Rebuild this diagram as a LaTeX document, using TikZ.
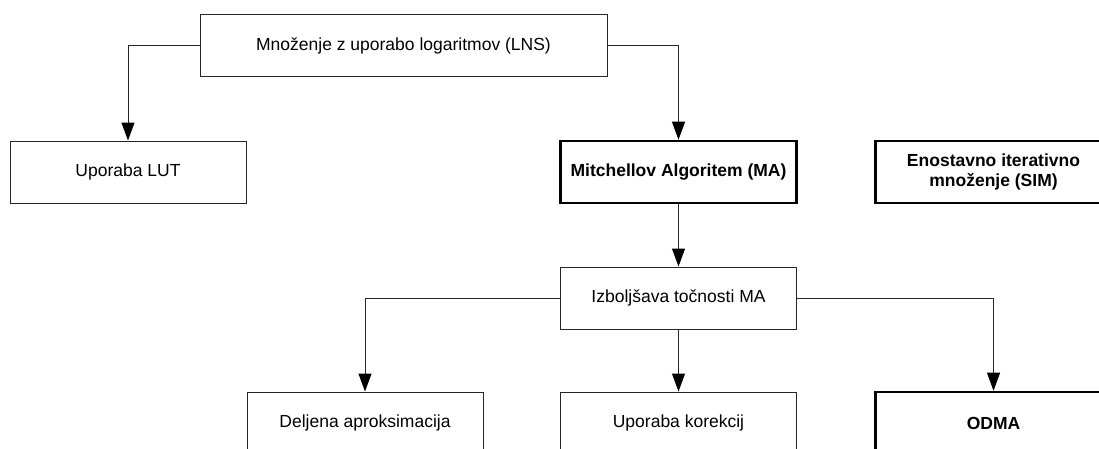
\documentclass[tikz,border=0pt]{standalone}
\usepackage{fontspec}
\setmainfont{Liberation Sans}
\usetikzlibrary{arrows.meta}

\tikzset{
  box/.style={draw=black!85, line width=1pt, rectangle, minimum width=236pt,
    minimum height=62pt, inner sep=0pt, align=center,
    font=\fontsize{17.5}{20.5}\selectfont},
  keybox/.style={box, draw=black, line width=2.6pt,
    font=\fontsize{17.5}{20.5}\selectfont\bfseries},
  link/.style={draw=black!85, line width=1pt,
    -{Triangle[length=18pt,width=13pt,color=black]}}
}

\begin{document}
\begin{tikzpicture}[x=1pt,y=-1pt]
  \useasboundingbox (0,0) rectangle (1099,448);
  \clip (0,0) rectangle (1099,448);

  % root and first level
  \node[box, minimum width=407pt] (lns) at (403.5,45.5) {Množenje z uporabo logaritmov (LNS)};
  \node[box] (lut) at (128,172) {Uporaba LUT};
  \node[keybox] (ma) at (678.5,172) {Mitchellov Algoritem (MA)};
  \node[keybox] (sim) at (993.5,172) {Enostavno iterativno\\množenje (SIM)};

  % improvements of MA
  \node[box] (izb) at (678.5,298) {Izboljšava točnosti MA};
  \node[box] (del) at (365,423) {Deljena aproksimacija};
  \node[box] (kor) at (678.5,423) {Uporaba korekcij};
  \node[keybox] (odma) at (993.5,423) {ODMA};

  % connectors
  \draw[link] (lns.west) -| (lut.north);
  \draw[link] (lns.east) -| (ma.north);
  \draw[link] (ma.south) -- (izb.north);
  \draw[link] (izb.west) -| (del.north);
  \draw[link] (izb.south) -- (kor.north);
  \draw[link] (izb.east) -| (odma.north);
\end{tikzpicture}
\end{document}
